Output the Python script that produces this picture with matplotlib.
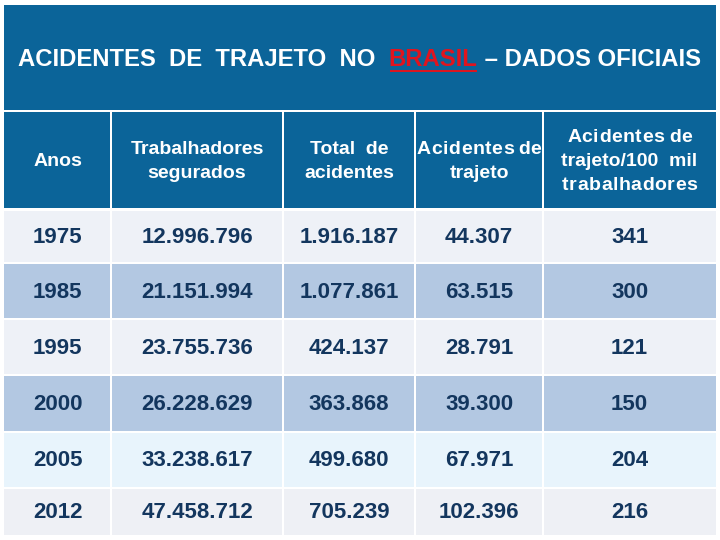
import matplotlib
matplotlib.use("Agg")
import matplotlib.pyplot as plt
from matplotlib.patches import Rectangle

plt.rcParams['font.family'] = ['Liberation Sans', 'DejaVu Sans']

title_parts = ["ACIDENTES  DE  TRAJETO  NO  ", "BRASIL", " – DADOS OFICIAIS"]
headers = ["Anos", "Trabalhadores\nsegurados", "Total  de\nacidentes",
           "A c i d e n t e s  d e\ntrajeto", "A c i d e n t e s  d e\ntrajeto/100  mil\nt r a b a l h a d o r e s"]
anos = [1975, 1985, 1995, 2000, 2005, 2012]
trabalhadores = [12996796, 21151994, 23755736, 26228629, 33238617, 47458712]
total_acidentes = [1916187, 1077861, 424137, 363868, 499680, 705239]
acidentes_trajeto = [44307, 63515, 28791, 39300, 67971, 102396]
por_100mil = [341, 300, 121, 150, 204, 216]

def fmt(v):
    return f"{v:,}".replace(",", ".")

# layout (pixels)
col_edges = [4, 111, 283, 415, 543, 716]
row_edges = [210, 263, 319, 375, 432, 488, 536]
head_top, head_bot = 112, 208
row_colors = ["#EEF1F7", "#B3C8E2", "#EEF1F7", "#B3C8E2", "#E8F4FC", "#EEF0F5"]
blue = "#0B6499"
txt_col = "#13365E"

fig = plt.figure(figsize=(7.2, 5.4), dpi=100)
ax = fig.add_axes([0, 0, 1, 1])
ax.set_xlim(0, 720)
ax.set_ylim(540, 0)
ax.axis("off")

# title box
ax.add_patch(Rectangle((4, 5), 712, 105, facecolor=blue, edgecolor="none"))

fig.canvas.draw()
renderer = fig.canvas.get_renderer()

g = 1.0
# header cells
for j in range(5):
    x0, x1 = col_edges[j] + g, col_edges[j + 1] - g
    if j == 0:
        x0 = col_edges[0]
    if j == 4:
        x1 = col_edges[5]
    ax.add_patch(Rectangle((x0, head_top), x1 - x0, head_bot - head_top,
                           facecolor=blue, edgecolor="none"))

header_fs = 14
for j in range(5):
    cx = (col_edges[j] + col_edges[j + 1]) / 2
    lines = headers[j].split("\n")
    n = len(lines)
    pitch = 24
    cy0 = (head_top + head_bot) / 2 + 2 - pitch * (n - 1) / 2
    for k, line in enumerate(lines):
        y = cy0 + k * pitch
        toks = line.split(" ")
        if len(toks) > 3 and all(len(t) <= 1 for t in toks):
            # letter-spaced line: draw characters individually
            chars = line.replace("  ", "\x00").replace(" ", "").replace("\x00", " ")
            tx = []
            widths = []
            for ch in chars:
                t = ax.text(0, y, ch, ha="left", va="center", color="white",
                            fontsize=header_fs, fontweight="bold")
                bb = t.get_window_extent(renderer=renderer)
                widths.append(bb.width if ch != " " else 3.5)
                tx.append(t)
            extra = 0.5
            total = sum(widths) + extra * (len(chars) - 1)
            xx = cx - total / 2
            for t, w in zip(tx, widths):
                t.set_x(xx)
                xx += w + extra
        else:
            ax.text(cx, y, line, ha="center", va="center", color="white",
                    fontsize=header_fs, fontweight="bold")

# data rows
cols = [[str(a) for a in anos], [fmt(v) for v in trabalhadores],
        [fmt(v) for v in total_acidentes], [fmt(v) for v in acidentes_trajeto],
        [str(v) for v in por_100mil]]
for i in range(len(anos)):
    y0, y1 = row_edges[i] + g, row_edges[i + 1] - g
    for j in range(5):
        x0, x1 = col_edges[j] + g, col_edges[j + 1] - g
        if j == 0:
            x0 = col_edges[0]
        if j == 4:
            x1 = col_edges[5]
        ax.add_patch(Rectangle((x0, y0), x1 - x0, y1 - y0,
                               facecolor=row_colors[i], edgecolor="none"))
        ax.text((col_edges[j] + col_edges[j + 1]) / 2, (y0 + y1) / 2 + 1,
                cols[j][i], ha="center", va="center", color=txt_col,
                fontsize=16, fontweight="bold")

# title with red underlined BRASIL
x = 18
ty = 60
colors = ["white", "#E0141E", "white"]
inv = ax.transData.inverted()
for k, part in enumerate(title_parts):
    t = ax.text(x, ty, part, ha="left", va="center", color=colors[k],
                fontsize=17.2, fontweight="bold")
    bb = t.get_window_extent(renderer=renderer)
    (px0, _), (px1, _) = inv.transform([[bb.x0, bb.y0], [bb.x1, bb.y1]])
    if k == 1:
        ax.plot([px0 + 1, px1 - 1], [71, 71], color="#E0141E", lw=1.4,
                solid_capstyle="butt")
    x = px1

fig.savefig("out.png", dpi=100)
